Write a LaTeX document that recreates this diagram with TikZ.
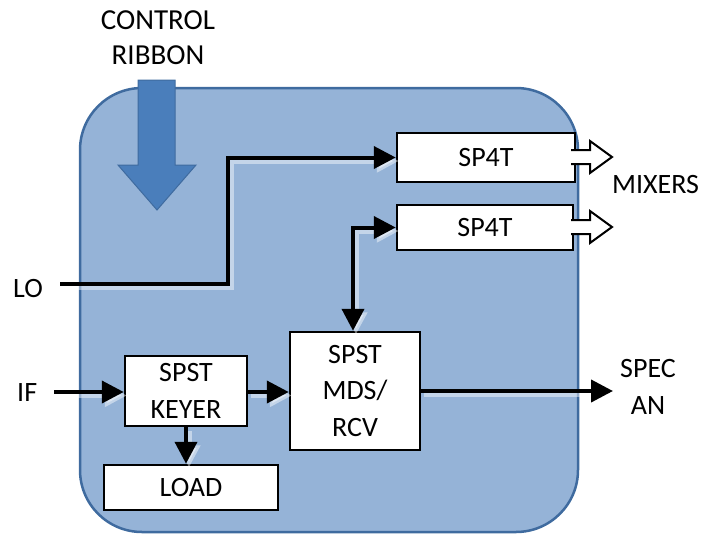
\documentclass[tikz,border=0pt]{standalone}
\usepackage{fontspec}
\setmainfont{Carlito}
\usetikzlibrary{arrows.meta,calc}
\definecolor{panel}{HTML}{95B3D7}
\definecolor{panelline}{HTML}{3F6B9F}
\definecolor{ribbon}{HTML}{4A7EBB}
\tikzset{
  blk/.style={draw=black,line width=2.5pt,fill=white,inner sep=0pt,align=center,font=\fontsize{28}{36.5}\selectfont},
  lbl/.style={inner sep=0pt,align=center,font=\fontsize{28}{36.5}\selectfont},
  glow/.style={preaction={draw=white,opacity=0.45,line width=5pt,transform canvas={shift={(3pt,-3.5pt)}}}},
  conn/.style={line width=4pt,line join=miter,-{Triangle[length=22pt,width=22pt]},glow},
  biconn/.style={line width=4pt,line join=miter,{Triangle[length=22pt,width=22pt]}-{Triangle[length=22pt,width=22pt]},glow},
  hollow/.style={draw=black,line width=2pt,fill=white,line join=miter},
}
\begin{document}
\begin{tikzpicture}[x=1pt,y=-1pt]
\useasboundingbox (0,0) rectangle (713,536);
% panel
\draw[panelline,fill=panel,line width=2.5pt,rounded corners=62pt] (80,88) rectangle (578,532);
% control ribbon
\node[lbl,font=\fontsize{29}{35}\selectfont] (ctl) at (158,38) {CONTROL\\RIBBON};
\draw[fill=ribbon,draw=panelline,line width=1pt] (138,80) -- (175,80) -- (175,165) -- (196,165) -- (157,210) -- (118,165) -- (138,165) -- cycle;
% blocks
\node[blk,minimum width=178pt,minimum height=49pt] (spa) at (486,157.5) {SP4T};
\node[blk,minimum width=176pt,minimum height=45pt] (spb) at (485,227.5) {SP4T};
\node[blk,minimum width=130pt,minimum height=118pt] (mds) at (355,391) {SPST\\MDS/\\RCV};
\node[blk,minimum width=122pt,minimum height=70pt] (key) at (186,391) {SPST\\KEYER};
\node[blk,minimum width=174pt,minimum height=45pt] (load) at (191,487.5) {LOAD};
% labels
\node[lbl,anchor=west] (lo) at (13,289) {LO};
\node[lbl,anchor=west] (if) at (17,393) {IF};
\node[lbl,anchor=west] (mix) at (612,185) {MIXERS};
\node[lbl] (spec) at (648,387) {SPEC\\AN};
% hollow output arrows
\draw[hollow] (571,150) -- (590,150) -- (590,141) -- (612,157) -- (590,173) -- (590,164) -- (571,164);
\draw[hollow] (571,220) -- (590,220) -- (590,211) -- (612,227) -- (590,243) -- (590,234) -- (571,234);
% connectors
\coordinate (loend) at (60,284);
\coordinate (ifend) at (54,392);
\coordinate (specend) at (613,391);
\draw[conn] (loend) -- (228,284) |- (spa.west);
\draw[biconn] (mds.north -| 353,0) |- (spb.west);
\draw[conn] (ifend) -- (key.west |- ifend);
\draw[conn] (key.east |- ifend) -- (mds.west |- ifend);
\draw[conn] (key.south) -- (load.north -| key.south);
\draw[conn] (mds.east |- specend) -- (specend);
\end{tikzpicture}
\end{document}
